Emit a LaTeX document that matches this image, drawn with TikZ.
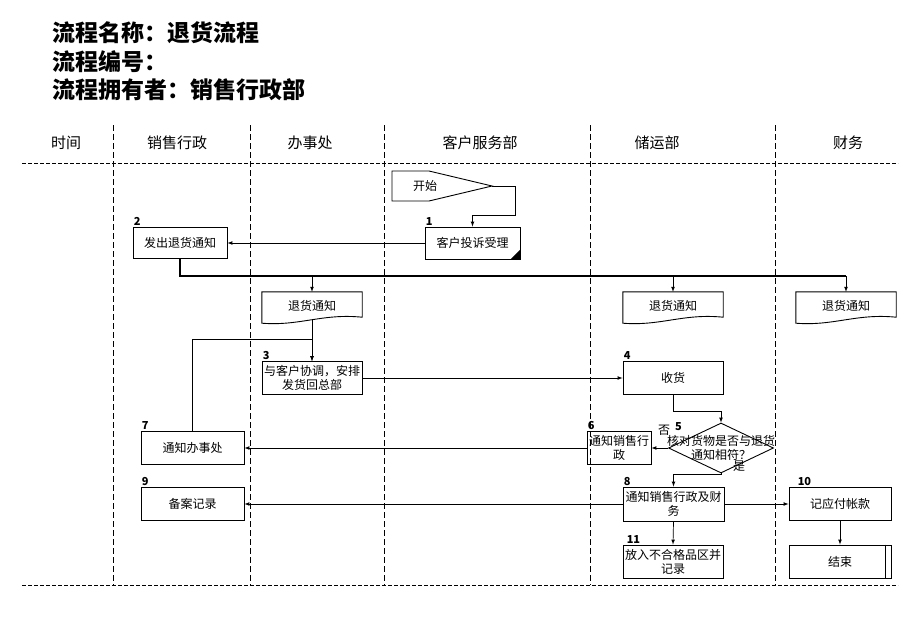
\documentclass[tikz,border=0pt]{standalone}
\usepackage{fontspec}
\setmainfont{Noto Sans CJK SC}
\usepackage{tikz}
\usetikzlibrary{shapes,arrows,positioning,calc}

\begin{document}
\begin{tikzpicture}[x=1pt,y=-1pt,
    box/.style={draw, line width=0.9pt, inner sep=1pt, align=center, font=\fontsize{12}{14}\selectfont},
    doc/.style={inner sep=0pt, minimum width=100pt, minimum height=28pt, font=\fontsize{12}{14}\selectfont},
    num/.style={anchor=south west, inner sep=1pt, font=\bfseries\fontsize{11}{11}\selectfont},
    lane/.style={line width=0.9pt, dash pattern=on 6pt off 3pt},
    arr/.style={-latex, line width=0.7pt}]
    \useasboundingbox (0,0) rectangle (920,637);

    % Title
    \node[anchor=west, font=\bfseries\fontsize{23}{23}\selectfont] (title1) at (49,33) {流程名称：退货流程};
    \node[anchor=west, font=\bfseries\fontsize{23}{23}\selectfont] (title2) at (49,62) {流程编号：};
    \node[anchor=west, font=\bfseries\fontsize{23}{23}\selectfont] (title3) at (49,90) {流程拥有者：销售行政部};

    % Lanes
    \foreach \x/\t [count=\i] in {66/时间, 177/销售行政, 310/办事处, 480/客户服务部, 657/储运部, 848/财务} {
        \node[font=\fontsize{15}{15}\selectfont] (head\i) at (\x,143) {\t};
    }
    \foreach \x in {113,250,384,590,775} {
        \draw[lane] (\x,125) -- (\x,585);
    }
    \draw[lane, dash pattern=on 4pt off 2pt] (22,163) -- (898,163);
    \draw[lane, dash pattern=on 4pt off 2pt] (22,585) -- (898,585);

    % Start and complaint
    \draw[line width=0.9pt] (392,171) -- (429,171) -- (492,186) -- (429,201) -- (392,201) -- cycle;
    \node[font=\fontsize{12}{14}\selectfont] (start) at (425,186) {开始};
    \coordinate (startTip) at (492,186);
    \node[box, minimum width=95pt, minimum height=32pt, label={[num]north west:1}] (cs) at (472.5,243) {客户投诉受理};
    \fill ($(cs.south east)+(-10,0)$) -- (cs.south east) -- ($(cs.south east)+(0,-10)$) -- cycle;
    \node[box, minimum width=94pt, minimum height=31pt, label={[num]north west:2}] (notice) at (180,243) {发出退货通知};

    % Return notices
    \foreach \n/\x in {docA/312, docB/673, docC/846} {
        \node[doc] (\n) at (\x,306) {退货通知};
        \draw[line width=0.9pt] (\n.north west) -- (\n.north east) -- ($(\n.south east)+(0,-3)$)
            .. controls ($(\n.south)+(10,-7)$) and ($(\n.south)+(-12,6)$) .. ($(\n.south west)+(0,3)$) -- cycle;
    }

    \node[box, minimum width=100pt, minimum height=33pt, label={[num]north west:3}] (coord) at (312,378) {与客户协调，安排\\发货回总部};
    \node[box, minimum width=100pt, minimum height=33pt, label={[num]north west:4}] (recv) at (673,378) {收货};
    \node[diamond, draw, line width=0.9pt, minimum width=105pt, minimum height=50pt, inner sep=0pt,
          label={[align=center, font=\fontsize{12}{14}\selectfont]center:核对货物是否与退货\\通知相符？}] (chk) at (721,448) {};
    \node[num] (n5) at (674,432) {5};
    \node[font=\fontsize{12}{12}\selectfont, inner sep=0pt] (no) at (664,430) {否};
    \node[font=\fontsize{12}{12}\selectfont, inner sep=0pt] (yes) at (739,466) {是};
    \node[box, minimum width=64pt, minimum height=33pt, label={[num]north west:6}] (notify) at (619,448) {通知销售行\\政};
    \node[box, minimum width=103pt, minimum height=33pt, label={[num]north west:7}] (inform) at (192.5,448) {通知办事处};
    \node[box, minimum width=101pt, minimum height=34pt, label={[num]north west:8}] (both) at (673.5,504) {通知销售行政及财\\务};
    \node[box, minimum width=103pt, minimum height=33pt, label={[num]north west:9}] (archive) at (192.5,504) {备案记录};
    \node[box, minimum width=102pt, minimum height=33pt, label={[num, xshift=8pt]north west:10}] (pay) at (840,504) {记应付帐款};
    \node[box, minimum width=100pt, minimum height=33pt, label={[num, xshift=3pt]north west:11}] (reject) at (673,561.5) {放入不合格品区并\\记录};
    \node[box, minimum width=102pt, minimum height=33pt] (finish) at (840,561.5) {结束};
    \draw[line width=0.9pt] ($(finish.north east)+(-6,0)$) -- ($(finish.south east)+(-6,0)$);

    % Connectors
    \draw[arr] (startTip) -- ++(23,0) |- ($(cs.north)+(0,-11)$) -- (cs.north);
    \draw[arr] (cs.west) -- (notice.east);
    \coordinate (bus) at (0,276);
    \draw[line width=1.2pt] (notice.south) |- (bus -| docC.north);
    \foreach \d in {docA,docB,docC} {
        \draw[arr] (bus -| \d.north) -- (\d.north);
    }
    \draw[arr] (docA.south) -- (coord.north);
    \draw[arr] (inform.north) |- ($(coord.north)+(0,-22)$) -- (coord.north);
    \draw[arr] (coord.east) -- (recv.west);
    \draw[arr] (recv.south) |- ($(chk.north)+(0,-11)$) -- (chk.north);
    \draw[arr] (chk.west) -- (notify.east);
    \draw[arr] (notify.west) -- (inform.east);
    \draw[arr] (chk.south) |- ($(both.north)+(0,-12)$) -- (both.north);
    \draw[arr] (both.west) -- (archive.east);
    \draw[arr] (both.east) -- (pay.west);
    \draw[arr] (both.south) -- (reject.north);
    \draw[arr] (pay.south) -- (finish.north);
\end{tikzpicture}
\end{document}
